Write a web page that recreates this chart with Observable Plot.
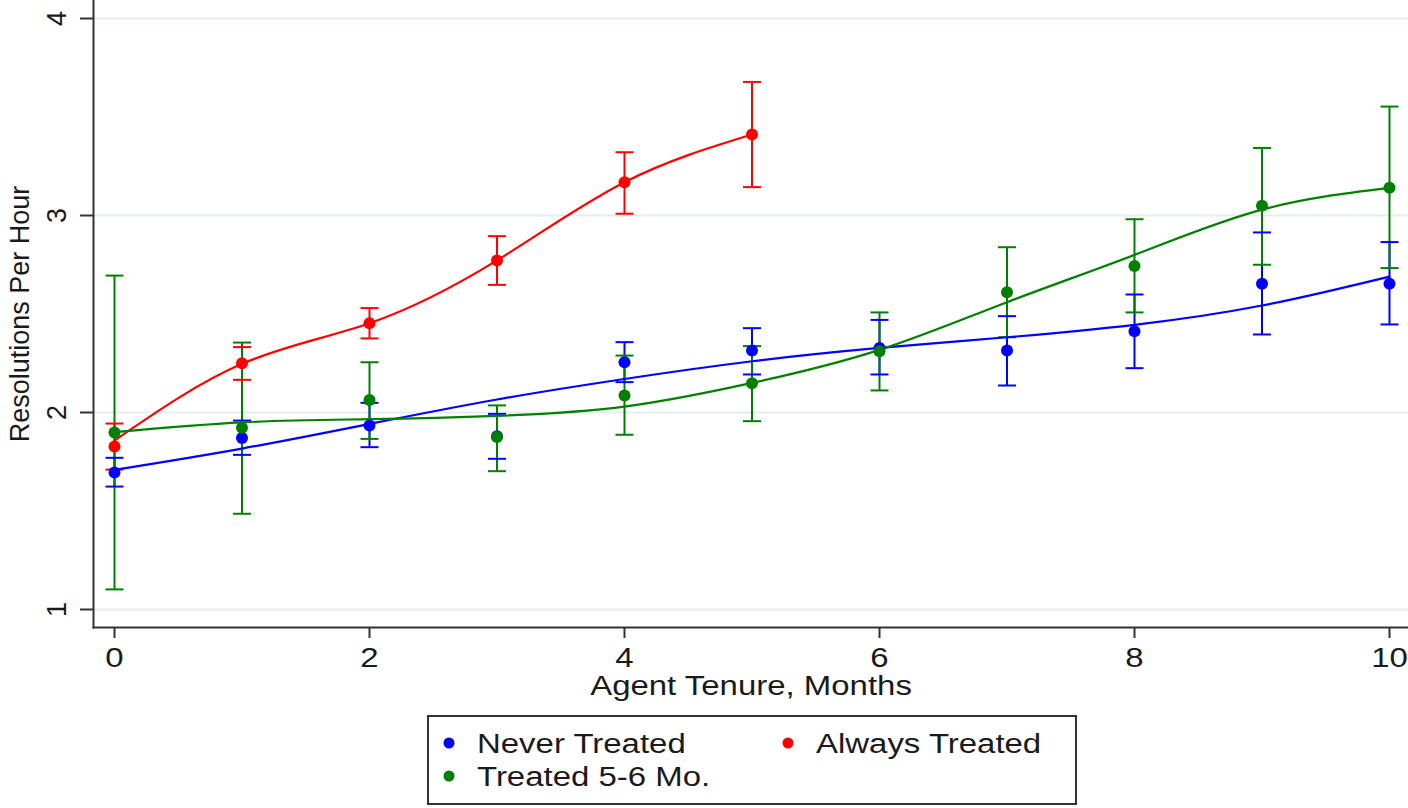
<!DOCTYPE html>
<html><head><meta charset="utf-8">
<script src="https://cdn.jsdelivr.net/npm/d3@7"></script>
<script src="https://cdn.jsdelivr.net/npm/@observablehq/plot@0.6"></script>
<style>
body{margin:0;background:#fff;font-family:"Liberation Sans",Arial,sans-serif;}
#chart{width:1408px;}
#legend{display:block;margin-left:427px;margin-top:3px;}
</style></head><body><div id="chart"></div>
<script>
// ---- data ----
const groups = ["Never Treated", "Always Treated", "Treated 5-6 Mo."];
const colors = ["#0000ff", "#ff0000", "#008000"];

const months = [0, 1, 2, 3, 4, 5, 6, 7, 8, 9, 10];
const alwaysMonths = [0, 1, 2, 3, 4, 5];

const neverMean = [1.695, 1.871, 1.934, 1.879, 2.255, 2.315, 2.327, 2.315, 2.413, 2.653, 2.653];
const neverLo   = [1.624, 1.785, 1.824, 1.765, 2.154, 2.193, 2.193, 2.137, 2.225, 2.396, 2.447];
const neverHi   = [1.770, 1.959, 2.049, 1.993, 2.357, 2.428, 2.470, 2.489, 2.599, 2.914, 2.865];
const neverFit  = [1.709, 1.817, 1.942, 2.066, 2.170, 2.260, 2.328, 2.382, 2.445, 2.543, 2.690];

const alwaysMean = [1.827, 2.250, 2.453, 2.772, 3.169, 3.411];
const alwaysLo   = [1.710, 2.166, 2.376, 2.648, 3.009, 3.144];
const alwaysHi   = [1.944, 2.332, 2.530, 2.895, 3.321, 3.678];
const alwaysFit  = [1.858, 2.247, 2.453, 2.772, 3.169, 3.411];

const treatedMean = [1.898, 1.922, 2.064, 1.875, 2.086, 2.149, 2.311, 2.611, 2.744, 3.049, 3.141];
const treatedLo   = [1.102, 1.486, 1.866, 1.702, 1.887, 1.956, 2.112, 2.382, 2.508, 2.750, 2.733];
const treatedHi   = [2.695, 2.355, 2.255, 2.036, 2.289, 2.337, 2.508, 2.839, 2.981, 3.343, 3.553];
const treatedFit  = [1.900, 1.950, 1.966, 1.983, 2.030, 2.150, 2.318, 2.560, 2.800, 3.030, 3.140];

const xTicks = [0, 2, 4, 6, 8, 10];
const yTicks = [1, 2, 3, 4];
const xLabel = "Agent Tenure, Months";
const yLabel = "Resolutions Per Hour";

// ---- build tables ----
const series = [
  {g: groups[0], m: months, mean: neverMean, lo: neverLo, hi: neverHi, fit: neverFit},
  {g: groups[1], m: alwaysMonths, mean: alwaysMean, lo: alwaysLo, hi: alwaysHi, fit: alwaysFit},
  {g: groups[2], m: months, mean: treatedMean, lo: treatedLo, hi: treatedHi, fit: treatedFit}
];
const pts = series.flatMap(s => s.m.map((month, i) => ({group: s.g, month, mean: s.mean[i], lo: s.lo[i], hi: s.hi[i]})));
const fits = series.flatMap(s => s.m.map((month, i) => ({group: s.g, month, fit: s.fit[i]})));

const capSymbol = {draw(ctx, size) { const w = Math.sqrt(size / Math.PI); ctx.moveTo(-w, 0); ctx.lineTo(w, 0); }};

const FS = 27;
const chart = Plot.plot({
  width: 1408, height: 712,
  marginLeft: 93, marginRight: 0, marginTop: 0, marginBottom: 85,
  style: {fontFamily: '"Liberation Sans", Arial, sans-serif', fontSize: FS + "px", color: "#1a1a1a", background: "#fff", overflow: "visible"},
  x: {domain: [-0.1647, 10.149]},
  y: {domain: [0.9086, 4.0914]},
  color: {domain: groups, range: colors},
  marks: [
    Plot.gridY(yTicks, {stroke: "#e3eef1", strokeOpacity: 1, strokeWidth: 2}),
    Plot.ruleX(pts, {x: "month", y1: "lo", y2: "hi", stroke: "group", strokeWidth: 2}),
    Plot.dot(pts, {x: "month", y: "lo", symbol: capSymbol, r: 9, stroke: "group", fill: "none", strokeWidth: 2}),
    Plot.dot(pts, {x: "month", y: "hi", symbol: capSymbol, r: 9, stroke: "group", fill: "none", strokeWidth: 2}),
    Plot.line(fits, {x: "month", y: "fit", z: "group", stroke: "group", curve: "natural", strokeWidth: 2.2}),
    Plot.dot(pts, {x: "month", y: "mean", fill: "group", r: 6}),
    Plot.frame({anchor: "left", stroke: "#333", strokeWidth: 2}),
    Plot.frame({anchor: "bottom", stroke: "#333", strokeWidth: 2}),
    Plot.axisY(yTicks, {anchor: "left", tickSize: 13, tickPadding: 15, tickRotate: -90, tickFormat: d => String(d), label: null, strokeWidth: 2, stroke: "#333", fontSize: FS}),
    Plot.axisX(xTicks, {anchor: "bottom", tickSize: 11, tickPadding: 9, tickFormat: d => String(d), label: null, strokeWidth: 2, stroke: "#333", fontSize: FS}),
    Plot.text([yLabel], {text: d => d, frameAnchor: "left", rotate: -90, dx: -65, lineAnchor: "bottom", textAnchor: "middle", fontSize: FS, fill: "#1a1a1a"}),
    Plot.text([xLabel], {text: d => d, frameAnchor: "bottom", dy: 67, lineAnchor: "bottom", textAnchor: "middle", fontSize: FS, fill: "#1a1a1a"})
  ]
});
document.getElementById("chart").appendChild(chart);

// horizontal stretch of the original picture
const STRETCH = 1.22;
function stretch(t) {
  const L = t.getComputedTextLength();
  t.setAttribute("textLength", L * STRETCH);
  t.setAttribute("lengthAdjust", "spacingAndGlyphs");
}
chart.querySelectorAll('g[aria-label="x-axis tick label"] text').forEach(stretch);
chart.querySelectorAll('text').forEach(t => { if (t.textContent === xLabel) stretch(t); });

// ---- legend ----
const lg = d3.create("svg").attr("id", "legend").attr("width", 650).attr("height", 90)
  .style("font-family", '"Liberation Sans", Arial, sans-serif').style("font-size", FS + "px");
lg.append("rect").attr("x", 1).attr("y", 1).attr("width", 648).attr("height", 88)
  .attr("fill", "#fff").attr("stroke", "#333").attr("stroke-width", 2);
const slots = [[0, 0], [1, 0], [0, 1]];
const colX = [22, 361], rowY = [28, 61];
groups.forEach((g, i) => {
  const [c, r] = slots[i];
  lg.append("circle").attr("cx", colX[c]).attr("cy", rowY[r]).attr("r", 5.5).attr("fill", colors[i]);
  lg.append("text").attr("x", colX[c] + 28).attr("y", rowY[r] + 10).attr("fill", "#1a1a1a").text(g);
});
document.getElementById("chart").appendChild(lg.node());
lg.selectAll("text").each(function() { stretch(this); });
</script></body></html>
